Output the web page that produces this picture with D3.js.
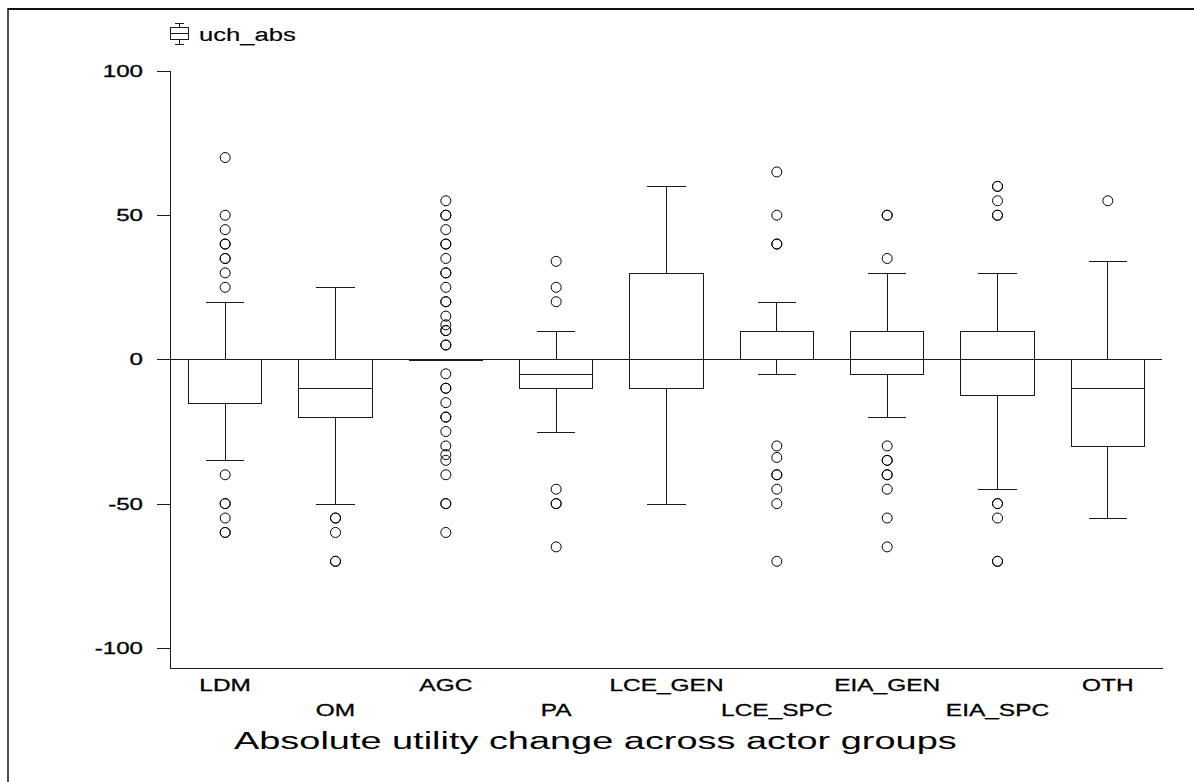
<!DOCTYPE html>
<html>
<head>
<meta charset="utf-8">
<script src="https://cdn.jsdelivr.net/npm/d3@7"></script>
<style>
  html, body { margin: 0; padding: 0; background: #fff; }
  svg { display: block; }
  text { font-family: "Liberation Sans", Arial, sans-serif; fill: #000; stroke: #000; stroke-width: 0.3px; }
</style>
</head>
<body>
<svg id="chart" width="1194" height="782"></svg>
<script>
// Actor groups on the category axis
const categories = ["LDM", "OM", "AGC", "PA", "LCE_GEN", "LCE_SPC", "EIA_GEN", "EIA_SPC", "OTH"];

// Box statistics per group (absolute utility change)
const q1Values      = [-15, -20, 0, -10, -10, 0, -5, -12.5, -30];
const medianValues  = [0, -10, 0, -5, 0, 0, 0, 0, -10];
const q3Values      = [0, 0, 0, 0, 30, 10, 10, 10, 0];
const whiskerLow    = [-35, -50, 0, -25, -50, -5, -20, -45, -55];
const whiskerHigh   = [20, 25, 0, 10, 60, 20, 30, 30, 34];

// Outlying observations per group (repeated values are separate cases)
const outliers = [
  [70, 50, 45, 40, 40, 35, 35, 30, 25, -40, -50, -50, -55, -60, -60],
  [-55, -55, -60, -70, -70],
  [55, 50, 50, 45, 40, 40, 35, 30, 30, 25, 20, 20, 15, 12, 10, 10, 5, 5,
   -5, -10, -10, -15, -20, -20, -25, -30, -33, -35, -40, -50, -50, -60],
  [34, 25, 20, -45, -50, -50, -65],
  [],
  [65, 50, 40, 40, -30, -34, -40, -40, -45, -50, -70],
  [50, 50, 35, -30, -35, -35, -40, -40, -45, -55, -65],
  [60, 60, 55, 50, 50, -50, -50, -55, -70, -70],
  [55]
];

// Axis ticks
const yTicks = [100, 50, 0, -50, -100];
const legendLabel = "uch_abs";
const xTitle = "Absolute utility change across actor groups";

const svg = d3.select("#chart");

const plotLeft = 170, plotRight = 1163, plotTop = 71, plotBottom = 668;

const x = d3.scaleBand().domain(categories).range([plotLeft, plotRight]).padding(0);
const y = d3.scaleLinear().domain([-107, 100]).range([plotBottom, plotTop]);

const ink = "#1a1a1a";

// Horizontally widened text helper
function wideText(g, str, px, py, size, sx, anchor) {
  return g.append("text")
    .attr("transform", `translate(${px},${py}) scale(${sx},1)`)
    .attr("text-anchor", anchor)
    .style("font-size", size + "px")
    .text(str);
}

// Outer frame (top and left edges)
svg.append("line").attr("x1", 8).attr("x2", 1194).attr("y1", 9).attr("y2", 9)
  .attr("stroke", "#111").attr("stroke-width", 2);
svg.append("line").attr("x1", 8).attr("x2", 8).attr("y1", 8).attr("y2", 782)
  .attr("stroke", "#111").attr("stroke-width", 1.5);

// Y axis
const yAxis = d3.axisLeft(y).tickValues(yTicks).tickSize(14).tickFormat("");
const gy = svg.append("g").attr("transform", `translate(${plotLeft + 0.5},0)`).call(yAxis);
gy.select(".domain").remove();
gy.selectAll(".tick line").attr("stroke", ink).attr("shape-rendering", "crispEdges");
svg.append("line").attr("x1", plotLeft + 0.5).attr("x2", plotLeft + 0.5)
  .attr("y1", y(100)).attr("y2", plotBottom + 0.5)
  .attr("stroke", ink).attr("shape-rendering", "crispEdges");
yTicks.forEach(t => {
  wideText(svg, String(t), 143, y(t) + 6, 17, 1.42, "end");
});

// X axis baseline
const xAxis = d3.axisBottom(x).tickSize(0).tickFormat("");
const gx = svg.append("g").attr("transform", `translate(0,${plotBottom + 0.5})`).call(xAxis);
gx.select(".domain").attr("stroke", ink).attr("d", `M${plotLeft},0H${plotRight}`);

// Category labels, staggered on two rows
categories.forEach((c, i) => {
  const cx = x(c) + x.bandwidth() / 2;
  wideText(svg, c, cx, i % 2 === 0 ? 691 : 716, 17, 1.44, "middle");
});

// Axis title
wideText(svg, xTitle, 234, 749, 24, 1.58, "start").style("stroke-width", "0px");

// Zero reference line
svg.append("line").attr("x1", plotLeft).attr("x2", plotRight - 1)
  .attr("y1", Math.round(y(0)) + 0.5).attr("y2", Math.round(y(0)) + 0.5)
  .attr("stroke", ink).attr("shape-rendering", "crispEdges");

// Box plots
const boxW = x.bandwidth() * 0.665;
const capW = x.bandwidth() * 0.345;
const snap = v => Math.round(v) + 0.5;

const groups = svg.append("g").selectAll("g").data(categories).join("g")
  .attr("transform", c => `translate(${x(c) + x.bandwidth() / 2},0)`);

groups.each(function (c, i) {
  const g = d3.select(this);
  const line = (x1, y1, x2, y2) => g.append("line")
    .attr("x1", x1).attr("y1", y1).attr("x2", x2).attr("y2", y2)
    .attr("stroke", ink).attr("stroke-width", 1).attr("shape-rendering", "crispEdges");

  const yq1 = snap(y(q1Values[i])), yq3 = snap(y(q3Values[i]));
  const ymed = snap(y(medianValues[i]));
  const ylo = snap(y(whiskerLow[i])), yhi = snap(y(whiskerHigh[i]));

  // whiskers and caps
  if (whiskerHigh[i] > q3Values[i]) {
    line(0, yhi, 0, yq3);
    line(-capW / 2, yhi, capW / 2, yhi);
  }
  if (whiskerLow[i] < q1Values[i]) {
    line(0, yq1, 0, ylo);
    line(-capW / 2, ylo, capW / 2, ylo);
  }
  // box outline
  g.append("path")
    .attr("d", `M${-boxW / 2},${yq3}H${boxW / 2}V${yq1}H${-boxW / 2}Z`)
    .attr("fill", "none").attr("stroke", ink).attr("shape-rendering", "crispEdges")
    .attr("stroke-width", q1Values[i] === q3Values[i] ? 2 : 1);
  // median
  line(-boxW / 2, ymed, boxW / 2, ymed);

  // outliers
  g.selectAll("circle").data(outliers[i]).join("circle")
    .attr("cx", 0).attr("cy", d => y(d)).attr("r", 5)
    .attr("fill", "none").attr("stroke", "#000").attr("stroke-width", 1);
});

// Legend: small box-plot glyph and variable name
const lg = svg.append("g").attr("transform", "translate(179,0)");
const lgLine = (x1, y1, x2, y2) => lg.append("line")
  .attr("x1", x1).attr("y1", y1).attr("x2", x2).attr("y2", y2)
  .attr("stroke", ink).attr("shape-rendering", "crispEdges");
lgLine(-4.5, 23.5, 4.5, 23.5);
lgLine(0.5, 23.5, 0.5, 27.5);
lg.append("rect").attr("x", -8.5).attr("y", 27.5).attr("width", 18).attr("height", 12)
  .attr("fill", "none").attr("stroke", ink).attr("shape-rendering", "crispEdges");
lgLine(-8.5, 33.5, 9.5, 33.5);
lgLine(0.5, 39.5, 0.5, 44.5);
lgLine(-4.5, 44.5, 4.5, 44.5);
wideText(svg, legendLabel, 199, 41, 19, 1.35, "start").style("stroke-width", "0.15px");
</script>
</body>
</html>
